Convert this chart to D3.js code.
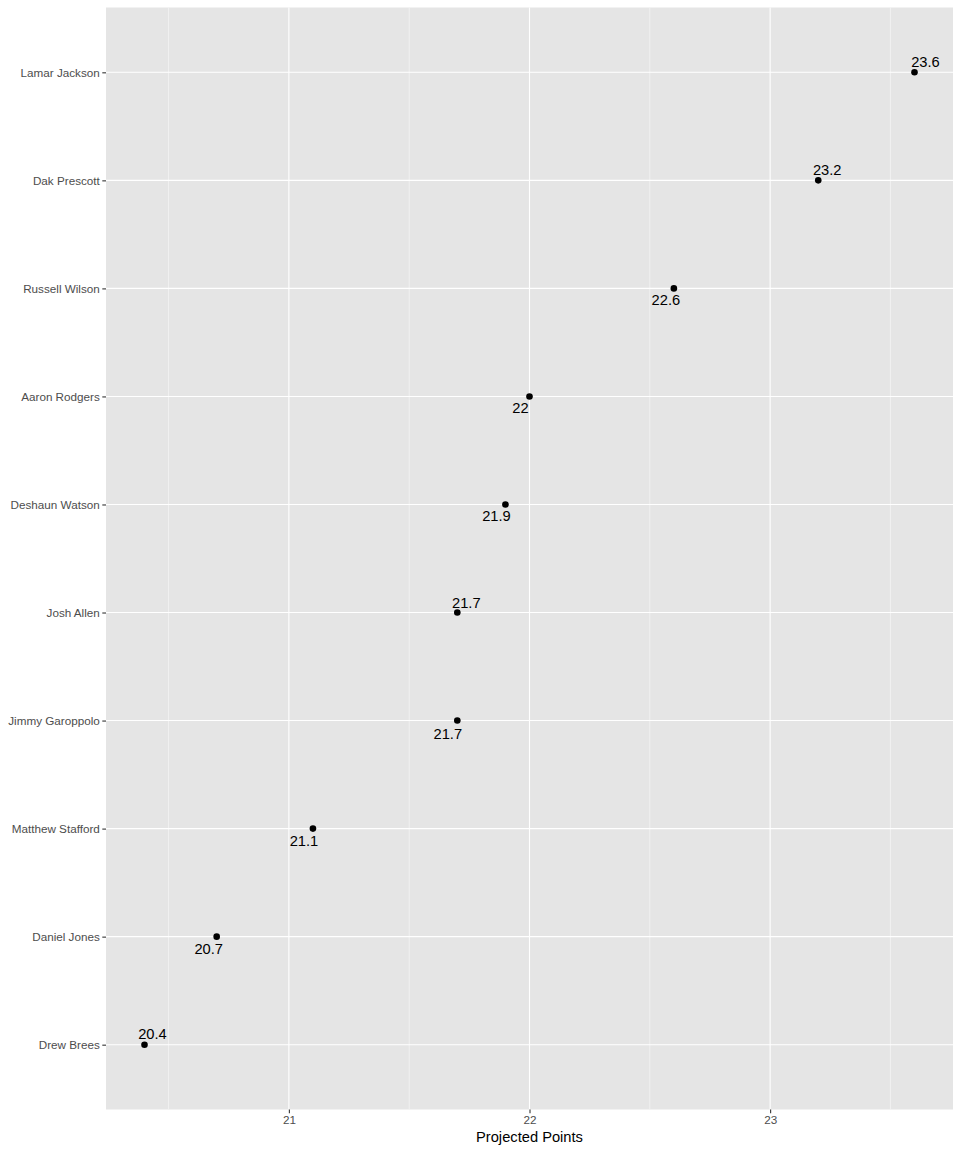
<!DOCTYPE html>
<html>
<head>
<meta charset="utf-8">
<script src="https://cdn.jsdelivr.net/npm/d3@7"></script>
<style>
  html, body { margin: 0; padding: 0; background: #fff; }
  text { font-family: "Liberation Sans", Arial, sans-serif; }
</style>
</head>
<body>
<svg id="chart" width="960" height="1152"></svg>
<script>
// Data
const players = ["Lamar Jackson", "Dak Prescott", "Russell Wilson", "Aaron Rodgers", "Deshaun Watson",
  "Josh Allen", "Jimmy Garoppolo", "Matthew Stafford", "Daniel Jones", "Drew Brees"];
const projectedPoints = [23.6, 23.2, 22.6, 22.0, 21.9, 21.7, 21.7, 21.1, 20.7, 20.4];
const xTicks = [21, 22, 23];
const xMinorTicks = [20.5, 21.5, 22.5, 23.5];
const xTitle = "Projected Points";

// Label placement (repelled labels): pixel offsets from each point
const labelDx = [11, 9, -8, -9, -9, 9, -9.5, -9, -8, 8];
const labelDy = [-5, -5, 17, 17, 17, -5, 18, 17, 17, -6];

const svg = d3.select("#chart");
const panel = { left: 106, right: 953, top: 7.5, bottom: 1109.5 };

const xMin = d3.min(projectedPoints), xMax = d3.max(projectedPoints);
const pad = (xMax - xMin) * 0.05;
const x = d3.scaleLinear().domain([xMin - pad, xMax + pad]).range([panel.left, panel.right]);
const y = d3.scalePoint().domain(players).range([panel.top, panel.bottom]).padding(0.6);

// panel background
svg.append("rect")
  .attr("x", panel.left).attr("y", panel.top)
  .attr("width", panel.right - panel.left).attr("height", panel.bottom - panel.top)
  .attr("fill", "#E5E5E5");

const grid = svg.append("g");
grid.selectAll("line.minor").data(xMinorTicks).enter().append("line")
  .attr("x1", d => x(d)).attr("x2", d => x(d))
  .attr("y1", panel.top).attr("y2", panel.bottom)
  .attr("stroke", "#F4F4F4").attr("stroke-width", 0.8);
grid.selectAll("line.majx").data(xTicks).enter().append("line")
  .attr("x1", d => x(d)).attr("x2", d => x(d))
  .attr("y1", panel.top).attr("y2", panel.bottom)
  .attr("stroke", "#FFFFFF").attr("stroke-width", 1.1);
grid.selectAll("line.majy").data(players).enter().append("line")
  .attr("x1", panel.left).attr("x2", panel.right)
  .attr("y1", d => y(d)).attr("y2", d => y(d))
  .attr("stroke", "#FFFFFF").attr("stroke-width", 1.1);

// axes
const xAxis = d3.axisBottom(x).tickValues(xTicks).tickSize(3.7).tickPadding(2.5).tickFormat(d3.format("d"));
const gx = svg.append("g").attr("transform", `translate(0,${panel.bottom})`).call(xAxis);
gx.select(".domain").remove();
gx.selectAll(".tick line").attr("stroke", "#333333").attr("stroke-width", 1.1);
gx.selectAll(".tick text").attr("fill", "#4D4D4D").style("font-size", "11.7px")
  .style("font-family", "'Liberation Sans', Arial, sans-serif");

const yAxis = d3.axisLeft(y).tickSize(3.7).tickPadding(2.5);
const gy = svg.append("g").attr("transform", `translate(${panel.left},0)`).call(yAxis);
gy.select(".domain").remove();
gy.selectAll(".tick line").attr("stroke", "#333333").attr("stroke-width", 1.1);
gy.selectAll(".tick text").attr("fill", "#4D4D4D").style("font-size", "11.7px")
  .style("font-family", "'Liberation Sans', Arial, sans-serif");

// axis title
svg.append("text")
  .attr("x", (panel.left + panel.right) / 2).attr("y", 1142)
  .attr("text-anchor", "middle").attr("fill", "#000")
  .style("font-size", "14.7px").text(xTitle);

// points
svg.append("g").selectAll("circle").data(players).enter().append("circle")
  .attr("cx", (d, i) => x(projectedPoints[i]))
  .attr("cy", d => y(d))
  .attr("r", 3.3).attr("fill", "#000");

// labels
svg.append("g").selectAll("text").data(players).enter().append("text")
  .attr("x", (d, i) => x(projectedPoints[i]) + labelDx[i])
  .attr("y", (d, i) => y(d) + labelDy[i])
  .attr("text-anchor", "middle").attr("fill", "#000")
  .style("font-size", "14.7px")
  .text((d, i) => d3.format("")(projectedPoints[i]));
</script>
</body>
</html>
